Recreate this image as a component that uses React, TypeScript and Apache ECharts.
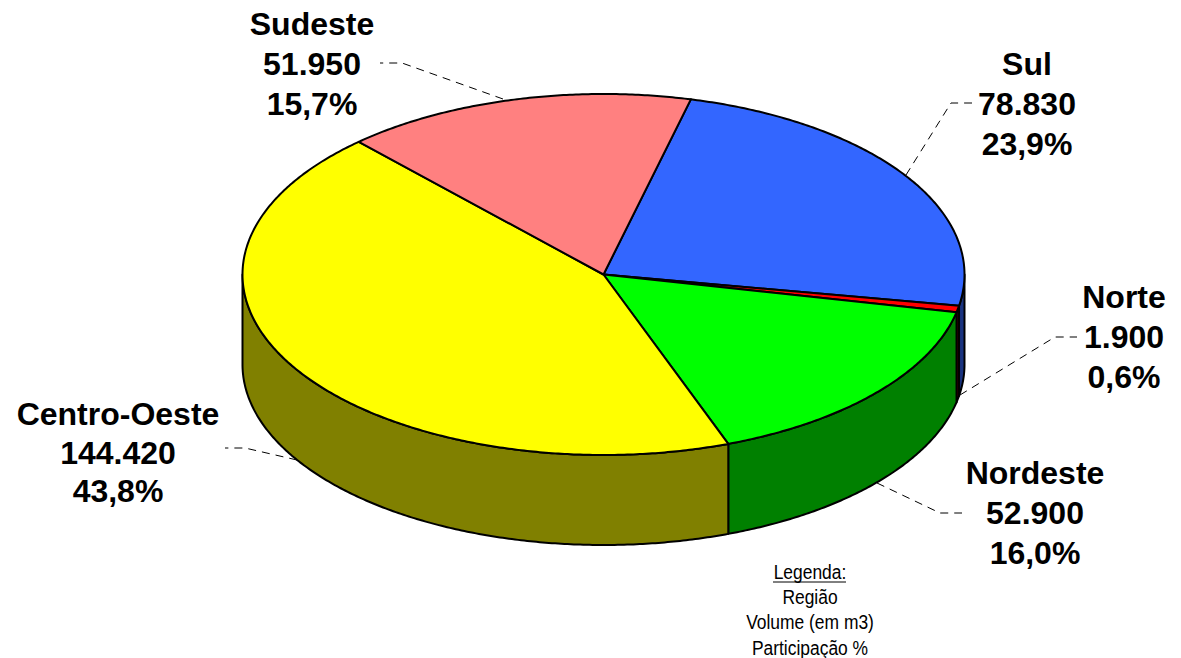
import React, { useEffect, useRef } from "react";
import * as echarts from "echarts";

const regions = ["Sul", "Norte", "Nordeste", "Centro-Oeste", "Sudeste"];
const volumes = [78830, 1900, 52900, 144420, 51950];
const topColors = ["#3366FF", "#FF0000", "#00FF00", "#FFFF00", "#FF8080"];
const wallColors = ["#1A3380", "#800000", "#008000", "#808000", "#804040"];
const legendLines = ["Legenda:", "Região", "Volume (em m3)", "Participação %"];

const CX = 603.5, CY = 274.5, RX = 361, RY = 180.5, DEPTH = 90, START = 76;
const total = volumes.reduce((a, b) => a + b, 0);

const labelCenters = [
  [1027, 64, 40], [1124, 297, 40], [1035, 473, 40], [118, 414, 38.5], [312, 24, 40],
];
const leaders = [
  [[906, 175], [951, 103], [972, 103]],
  [[960, 395], [1055, 337], [1077, 337]],
  [[877, 483], [940, 513], [962, 513]],
  [[297, 460], [245, 448], [225, 448]],
  [[503, 99], [402, 63], [380, 63]],
];

function sliceAngles(i: number): [number, number] {
  let before = 0;
  for (let k = 0; k < i; k++) before += volumes[k];
  const a = START - (before / total) * 360;
  return [a, a - (volumes[i] / total) * 360];
}
function pt(deg: number, dy = 0): number[] {
  const r = (deg * Math.PI) / 180;
  return [CX + RX * Math.cos(r), CY - RY * Math.sin(r) + dy];
}
function arc(a: number, b: number, dy = 0): number[][] {
  const n = Math.max(2, Math.ceil(Math.abs(a - b) * 2));
  const out: number[][] = [];
  for (let i = 0; i <= n; i++) out.push(pt(a + ((b - a) * i) / n, dy));
  return out;
}
function fmtVolume(v: number) {
  return String(v).replace(/\B(?=(\d{3})+$)/g, ".");
}
function fmtShare(v: number) {
  return ((v / total) * 100).toFixed(1).replace(".", ",") + "%";
}

const LINE = { stroke: "#000", lineWidth: 2, lineJoin: "round" as const };

function renderWall(params: any) {
  const i = params.dataIndex;
  const ranges: number[][] = [];
  const [a0, b0] = sliceAngles(i);
  // the lower half of the ellipse is the visible part of the wall
  for (const shift of [0, 360, -360]) {
    const a = Math.min(a0 + shift, 0);
    const b = Math.max(b0 + shift, -180);
    if (a > b) ranges.push([a, b]);
  }
  return {
    type: "group",
    children: ranges.map(([a, b]) => ({
      type: "polygon",
      shape: { points: [...arc(a, b), ...arc(b, a, DEPTH)] },
      style: { fill: wallColors[i], ...LINE },
    })),
  };
}
function renderTop(params: any) {
  const i = params.dataIndex;
  const [a, b] = sliceAngles(i);
  return {
    type: "polygon",
    shape: { points: [[CX, CY], ...arc(a, b)] },
    style: { fill: topColors[i], ...LINE },
  };
}
function renderLabel(params: any, api: any) {
  const i = params.dataIndex;
  const [x, y, step] = labelCenters[i];
  const lines = [regions[i], fmtVolume(api.value(0)), fmtShare(api.value(0))];
  return {
    type: "group",
    children: [
      {
        type: "polyline",
        shape: { points: leaders[i] },
        style: { stroke: "#000", lineWidth: 1, lineDash: [8, 6], fill: "none" },
      },
      ...lines.map((text, k) => ({
        type: "text",
        style: {
          text,
          x,
          y: y + k * step,
          align: "center",
          verticalAlign: "middle",
          fill: "#000",
          font: 'bold 32px "Liberation Sans", Arial, sans-serif',
        },
      })),
    ],
  };
}

export default function App() {
  const ref = useRef<HTMLDivElement>(null);
  useEffect(() => {
    const chart = echarts.init(ref.current!, null, { renderer: "svg" });
    const data = volumes.map((v) => [v]);
    const common = { type: "custom", coordinateSystem: "none", data, silent: true };
    chart.setOption({
      animation: false,
      backgroundColor: "#fff",
      series: [
        { ...common, z: 1, renderItem: renderWall },
        { ...common, z: 2, renderItem: renderTop },
        { ...common, z: 3, renderItem: renderLabel },
      ],
      graphic: [
        ...legendLines.map((text, k) => ({
          type: "text",
          x: 810,
          y: 572 + k * 25.2,
          scaleX: 0.83,
          style: {
            text,
            align: "center",
            verticalAlign: "middle",
            fill: "#000",
            font: '21px "Liberation Sans", sans-serif',
          },
        })),
        {
          type: "line",
          shape: { x1: 773, y1: 582, x2: 846, y2: 582 },
          style: { stroke: "#000", lineWidth: 1 },
        },
      ],
    });
    return () => chart.dispose();
  }, []);
  return <div ref={ref} style={{ position: "absolute", left: 0, top: 0, width: 1181, height: 658 }} />;
}
